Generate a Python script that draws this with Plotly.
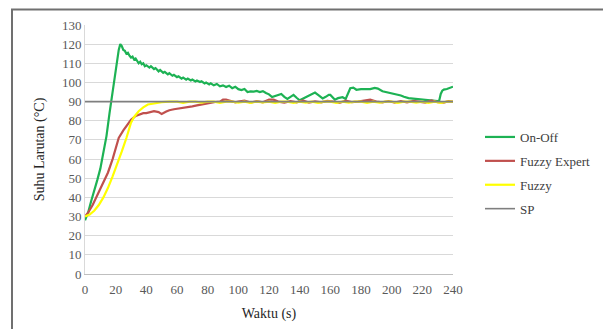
import plotly.graph_objects as go

# ---------------- data ----------------
onoff_t = [0, 2, 4, 6, 8, 10, 12, 14, 16, 17, 18, 19, 20, 21, 22, 23,
           24, 25, 26, 27, 28, 29, 30, 31, 32, 33, 34, 35, 36, 37, 38, 39, 40, 42, 43, 45, 46, 48, 49,
           51, 52, 54, 55, 57, 58, 60, 61, 63, 64, 66, 67, 69, 70, 72, 73, 75, 76, 78, 79, 81, 82, 84,
           86, 88, 90, 92, 94, 96, 98, 100, 102, 104, 106, 108, 110, 112, 114, 116, 118, 120, 122, 124,
           126, 128, 130, 132, 134, 136, 138, 140, 142, 144, 146, 148, 150, 152, 154, 155, 157, 159,
           160, 162, 163, 165, 168, 170, 172, 173, 175, 177, 180, 183, 186, 189, 191, 194, 197, 200,
           203, 206, 208, 211, 214, 216, 219, 222, 225, 228, 230, 231, 232, 233, 234, 236, 238, 240]
onoff_v = [28, 32, 38, 43, 49, 55, 63, 72, 84, 90, 96, 102, 107, 112, 117, 120,
           119, 117, 116.5, 115, 115.5, 114, 113, 113.5, 112, 112.5, 111, 110, 110.8, 109.5, 110, 108.5, 109, 107.8, 108.5, 107, 107.5, 105.8, 106.5,
           105, 105.5, 104.2, 104.8, 103.5, 104, 102.8, 103.2, 102, 102.5, 101.5, 102, 101, 101.5, 100.5, 101, 100.2, 100.6, 99.5, 100, 99, 99.6, 98.5,
           99.2, 98, 98.5, 97.6, 98.3, 97, 97.8, 96.5, 96, 96.6, 95, 95.3, 95.2, 95.6, 95, 95.5, 94.5, 93.8, 92.4, 93,
           93.5, 94, 92.5, 91.4, 92.5, 93.5, 92, 90.7, 91.5, 92.3, 92.8, 93.8, 94.7, 93.5, 92.2, 91.7, 92.5, 93.5,
           93.5, 91.5, 91, 91.8, 92.3, 91.4, 95, 97, 97.3, 96.2, 96.5, 96.6, 96.5, 97.2, 96.8, 95.4, 94.8, 94.3,
           94, 93.2, 92.5, 91.8, 91.6, 91.4, 91.3, 91.2, 90.8, 90.5, 90.3, 90.5, 94, 95.7, 96.3, 96.6, 97, 97.8]

fexp_t = [0, 2, 5, 8, 10, 12, 15, 18, 20, 22, 25, 28, 30, 33, 35, 38, 40, 43, 45, 48, 50, 53, 55, 58,
          62, 65, 68, 70, 73, 75, 78, 80, 83, 85, 88, 90, 92, 95, 98, 100, 104, 108, 112, 116, 120, 123,
          126, 130, 134, 138, 142, 146, 150, 154, 158, 162, 166, 170, 174, 178, 182, 186, 190, 194, 198,
          202, 206, 210, 214, 218, 222, 226, 230, 234, 237, 240]
fexp_v = [30, 32, 36, 41, 44.5, 48, 53, 60, 66, 71, 75, 78, 80.5, 82.5, 83, 84, 84, 84.7, 85, 84.5, 83.5, 84.8, 85.5, 86,
          86.5, 86.5, 87, 87.5, 88, 88.3, 88.8, 89.2, 89.5, 89.8, 90, 91, 91, 90.3, 89.6, 90, 90.5, 89.5, 90.2, 89.6, 91, 91,
          90, 89.5, 90.2, 89.6, 90.6, 89.5, 90.1, 89.6, 90.4, 90, 89.4, 90.5, 89.7, 90, 90.5, 91, 90, 89.6, 90.3,
          89.5, 90.2, 89.6, 90.4, 90, 89.5, 90.6, 89.7, 89.5, 90.2, 90]

fuzzy_t = [0, 3, 6, 9, 12, 15, 18, 21, 24, 27, 30, 32, 35, 38, 41, 45, 50, 55, 60, 64, 68, 72, 76,
           80, 84, 88, 92, 96, 100, 104, 108, 112, 116, 120, 124, 128, 132, 136, 140, 144, 148, 152,
           156, 160, 164, 168, 172, 176, 180, 184, 188, 192, 196, 200, 204, 208, 212, 216, 220, 224,
           228, 232, 236, 240]
fuzzy_v = [30, 31, 33, 36, 40, 45, 51, 57, 64, 71, 79, 82, 85, 87, 88.5, 89, 89.7, 90, 90, 89.4, 90, 90, 89.5,
           90, 90, 89.4, 90, 90, 89.5, 90, 89.4, 90, 89.6, 90, 89.3, 90, 90, 89.4, 90, 89.5, 90, 89.4,
           90, 90, 89.4, 90, 89.5, 90, 90, 89.4, 90, 89.5, 90, 90, 89.4, 90, 90, 89.5, 90, 89.3,
           90, 89.4, 90, 90]

sp_t = [0, 240]
sp_v = [90, 90]

x_ticks = list(range(0, 241, 20))
y_ticks = list(range(0, 131, 10))

# ---------------- figure ----------------
W, H = 603, 329
L, R, T, B = 85, 150, 25, 55
pw, ph = W - L - R, H - T - B
SERIF = '"Liberation Serif", "Times New Roman", Times, serif'

fig = go.Figure()
series = [
    ("On-Off", onoff_t, onoff_v, "#1db254", 2.2),
    ("Fuzzy Expert", fexp_t, fexp_v, "#c0504d", 2.2),
    ("Fuzzy", fuzzy_t, fuzzy_v, "#ffff00", 2.2),
    ("SP", sp_t, sp_v, "#7f7f7f", 1.6),
]
for name, t, v, c, w in series:
    fig.add_trace(go.Scatter(x=t, y=v, mode="lines", name=name, legendgroup=name,
                             line=dict(color=c, width=w)))

def px_to_paper_x(p):
    return (p - L) / pw

def px_to_paper_y(p):
    return (H - B - p) / ph

# outer frame
fig.add_shape(type="rect", xref="paper", yref="paper",
              x0=px_to_paper_x(12), x1=px_to_paper_x(610),
              y0=px_to_paper_y(335), y1=px_to_paper_y(9.5),
              line=dict(color="#707070", width=2), layer="below")

tickfont = dict(family=SERIF, size=13, color="#595959")
fig.update_layout(
    width=W, height=H,
    margin=dict(l=L, r=R, t=T, b=B, autoexpand=False),
    paper_bgcolor="white", plot_bgcolor="white",
    font=dict(family=SERIF, color="#262626"),
    xaxis=dict(range=[0, 240], tickvals=x_ticks, ticktext=[str(v) for v in x_ticks],
               showgrid=False, zeroline=False, showline=True, linecolor="#bfbfbf", linewidth=1,
               ticks="", tickfont=tickfont, ticklabelstandoff=3,
               title=dict(text="Waktu (s)", font=dict(family=SERIF, size=14, color="#262626"), standoff=12)),
    yaxis=dict(range=[0, 130], tickvals=y_ticks, ticktext=[str(v) for v in y_ticks],
               showgrid=True, gridcolor="#d9d9d9", gridwidth=1, zeroline=False,
               showline=True, linecolor="#d9d9d9", linewidth=1, ticks="", tickfont=tickfont,
               title=dict(text="Suhu Larutan (°C)", font=dict(family=SERIF, size=14, color="#262626"), standoff=14)),
    legend=dict(x=px_to_paper_x(480), y=px_to_paper_y(122), xanchor="left", yanchor="top",
                font=dict(family=SERIF, size=13, color="#404040"),
                tracegroupgap=4, bgcolor="rgba(0,0,0,0)", itemwidth=30),
    showlegend=True,
)

fig.write_html("out.html")
